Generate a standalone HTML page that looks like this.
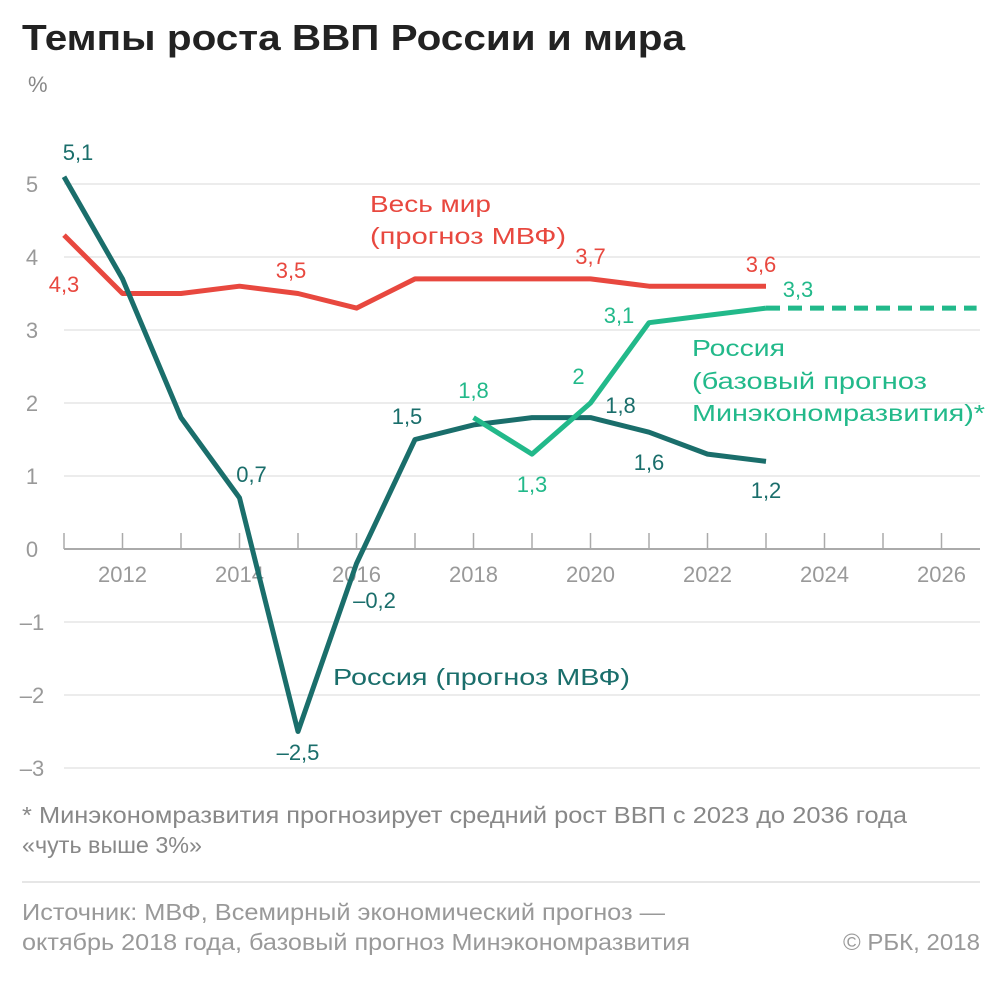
<!DOCTYPE html>
<html><head><meta charset="utf-8"><style>
body{margin:0;background:#fff;width:1005px;height:979px;overflow:hidden;font-family:"Liberation Sans",sans-serif}
</style></head><body>
<svg width="1005" height="979" id="c">
<text x="22" y="50" font-size="36" font-weight="bold" fill="#222" textLength="663" lengthAdjust="spacingAndGlyphs">Темпы роста ВВП России и мира</text>
<text x="28" y="92" font-size="22" fill="#888">%</text>
<g id="grid"></g><g id="series"></g>
<text x="22" y="823" font-size="23" fill="#888" textLength="885" lengthAdjust="spacingAndGlyphs">* Минэкономразвития прогнозирует средний рост ВВП с 2023 до 2036 года</text>
<text x="22" y="853" font-size="23" fill="#888" textLength="180" lengthAdjust="spacingAndGlyphs">«чуть выше 3%»</text>
<line x1="22" y1="882" x2="980" y2="882" stroke="#ddd" stroke-width="1.5"/>
<text x="22" y="920" font-size="23" fill="#999" textLength="643" lengthAdjust="spacingAndGlyphs">Источник: МВФ, Всемирный экономический прогноз —</text>
<text x="22" y="950" font-size="23" fill="#999" textLength="668" lengthAdjust="spacingAndGlyphs">октябрь 2018 года, базовый прогноз Минэкономразвития</text>
<text x="843" y="950" font-size="23" fill="#999" textLength="137" lengthAdjust="spacingAndGlyphs">© РБК, 2018</text>
</svg>
<script>
const years=[2011,2012,2013,2014,2015,2016,2017,2018,2019,2020,2021,2022,2023];
const world=[4.3,3.5,3.5,3.6,3.5,3.3,3.7,3.7,3.7,3.7,3.6,3.6,3.6];
const russiaImf=[5.1,3.7,1.8,0.7,-2.5,-0.2,1.5,1.7,1.8,1.8,1.6,1.3,1.2];
const minYears=[2018,2019,2020,2021,2022,2023];
const russiaMin=[1.8,1.3,2,3.1,3.2,3.3];
const dashYears=[2023,2026.6];
const dashVals=[3.3,3.3];
const yTicks=[-3,-2,-1,0,1,2,3,4,5];
const yTickLabels=["–3","–2","–1","0","1","2","3","4","5"];
const xTicks=[2012,2014,2016,2018,2020,2022,2024,2026];
const NS="http://www.w3.org/2000/svg";
const X=y=>64+(y-2011)*58.5, Y=v=>549-v*73;
function mk(t,a,p){const e=document.createElementNS(NS,t);for(const k in a)e.setAttribute(k,a[k]);p.appendChild(e);return e;}
const g=document.getElementById('grid'), s=document.getElementById('series');
yTicks.forEach((v,i)=>{
 if(v!==0){const l=mk('line',{x1:64,x2:980,y1:Y(v),y2:Y(v),stroke:'#e6e6e6','stroke-width':1.5},g);
 
 }
 const t=mk('text',{x:32,y:Y(v)+8,'font-size':22,fill:'#999','text-anchor':'middle'},g);t.textContent=yTickLabels[i];
 
 
});
const ax=mk('line',{x1:64,x2:980,y1:Y(0),y2:Y(0),stroke:'#aaa','stroke-width':2},g);


for(let y=2011;y<=2026;y++){mk('line',{x1:X(y),x2:X(y),y1:Y(0)-16,y2:Y(0),stroke:'#aaa','stroke-width':1.5},g);}
xTicks.forEach(y=>{const t=mk('text',{x:X(y),y:Y(0)+33,'font-size':22,fill:'#999','text-anchor':'middle'},g);t.textContent=y;
 
 });
function line(xs,vs,col,name,dash){const p=mk('polyline',{points:xs.map((x,i)=>X(x)+','+Y(vs[i])).join(' '),fill:'none',stroke:col,'stroke-width':5,'stroke-linejoin':'round'},s);
 if(dash)p.setAttribute('stroke-dasharray',dash);
 
 }
const R='#e8483f',T='#1a6e6b',G='#22b98a';
line(years,world,R,'world-line');
line(years,russiaImf,T,'russia-imf-line');
line(minYears,russiaMin,G,'russia-min-line');
line(dashYears,dashVals,G,'russia-min-dashed','14 8');
function lab(txt,x,y,col,anchor,len){const t=mk('text',{x:x,y:y,'font-size':len?23:22,fill:col,'text-anchor':anchor||'middle'},s);t.textContent=txt;
 if(len){t.setAttribute('textLength',len);t.setAttribute('lengthAdjust','spacingAndGlyphs');}
 
 }
lab('4,3',X(2011),292,R);lab('3,5',X(2015)-7,278,R);lab('3,7',X(2020),264,R);lab('3,6',X(2023)-5,272,R);
lab('5,1',X(2011)+14,160,T);lab('0,7',X(2014)+12,482,T);lab('–2,5',X(2015),760,T);lab('–0,2',X(2016)+18,608,T);
lab('1,5',X(2017)-8,424,T);lab('1,8',X(2020)+30,413,T);lab('1,6',X(2021),470,T);lab('1,2',X(2023),498,T);
lab('1,8',X(2018),398,G);lab('1,3',X(2019),492,G);lab('2',X(2020)-12,384,G);lab('3,1',X(2021)-30,323,G);lab('3,3',X(2023)+32,297,G);
lab('Весь мир',370,212,R,'start',121);lab('(прогноз МВФ)',370,244,R,'start',196);
lab('Россия',692,356,G,'start',93);lab('(базовый прогноз',692,389,G,'start',235);lab('Минэкономразвития)*',692,421,G,'start',293);
lab('Россия (прогноз МВФ)',333,685,T,'start',297);
</script>
</body></html>
